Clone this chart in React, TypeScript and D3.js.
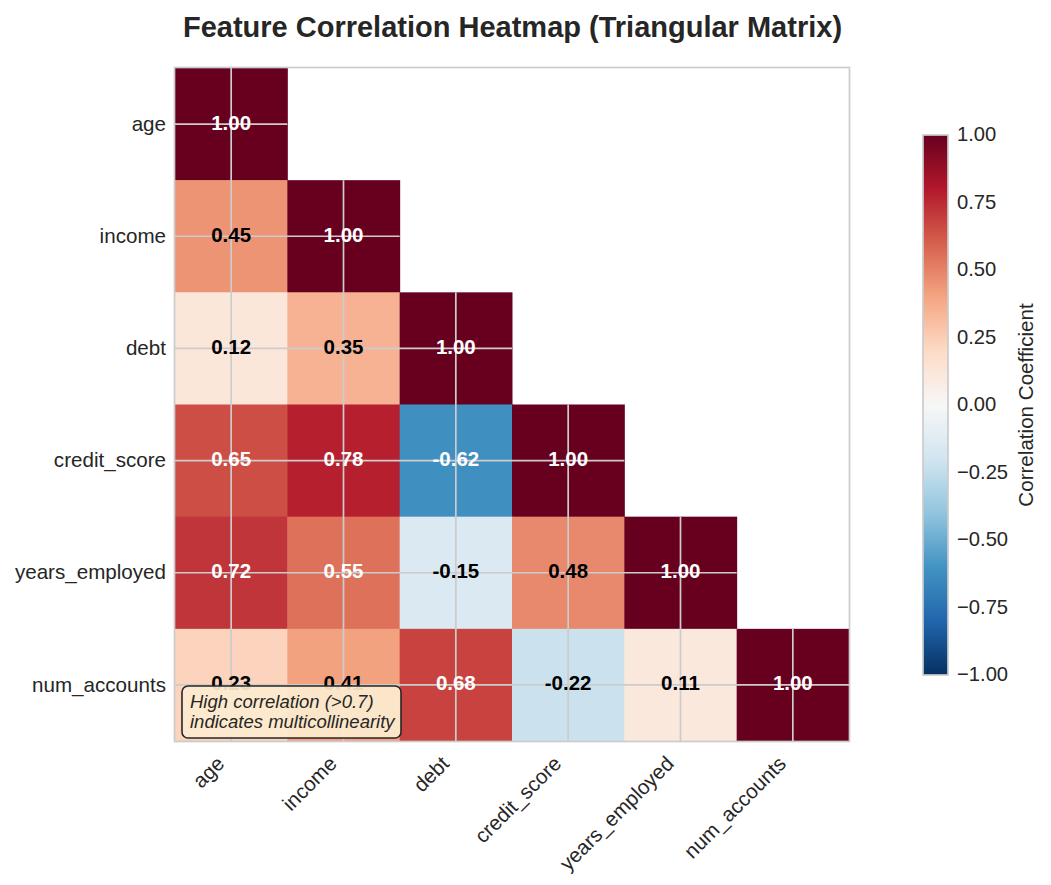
import React from 'react';
import * as d3 from 'd3';

// feature names and the lower-triangle correlation values (row by row)
const features = ['age', 'income', 'debt', 'credit_score', 'years_employed', 'num_accounts'];
const correlations: number[][] = [
  [1.0],
  [0.45, 1.0],
  [0.12, 0.35, 1.0],
  [0.65, 0.78, -0.62, 1.0],
  [0.72, 0.55, -0.15, 0.48, 1.0],
  [0.23, 0.41, 0.68, -0.22, 0.11, 1.0],
];
const colorbarTicks = [-1, -0.75, -0.5, -0.25, 0, 0.25, 0.5, 0.75, 1];

// matplotlib RdBu_r stops
const rdbuR = ['#053061', '#2166ac', '#4393c3', '#92c5de', '#d1e5f0', '#f7f7f7',
  '#fddbc7', '#f4a582', '#d6604d', '#b2182b', '#67001f'];

const FONT = '"Liberation Sans", Arial, sans-serif';
const TEXT = '#262626';
const GRID = '#cccccc';

const App = () => {
  const width = 1051;
  const height = 885;
  const plot = { left: 175, top: 68, right: 849, bottom: 741 };

  const x = d3.scaleBand<string>().domain(features).range([plot.left, plot.right]);
  const y = d3.scaleBand<string>().domain(features).range([plot.top, plot.bottom]);
  const bw = x.bandwidth();
  const bh = y.bandwidth();

  const color = d3.scaleLinear<string>()
    .domain(d3.range(rdbuR.length).map(i => -1 + (2 * i) / (rdbuR.length - 1)))
    .range(rdbuR)
    .interpolate(d3.interpolateRgb)
    .clamp(true);

  const cb = { x: 923, w: 25, top: 135, bottom: 675 };
  const cbScale = d3.scaleLinear().domain([-1, 1]).range([cb.bottom, cb.top]);

  const cells = correlations.flatMap((row, i) =>
    row.map((v, j) => ({ row: features[i], col: features[j], v }))
  );

  const fmt = (v: number) => v.toFixed(2).replace('-', '\u2212');

  return (
    <svg width={width} height={height} style={{ position: 'absolute', left: 0, top: 0, background: '#fff' }}
      fontFamily={FONT}>
      <defs>
        <linearGradient id="cbGrad" x1="0" y1="1" x2="0" y2="0">
          {rdbuR.map((c, i) => (
            <stop key={i} offset={`${(i / (rdbuR.length - 1)) * 100}%`} stopColor={c} />
          ))}
        </linearGradient>
      </defs>

      <text x={512.5} y={37} textAnchor="middle" fontSize={29} fontWeight="bold" fill={TEXT}>
        Feature Correlation Heatmap (Triangular Matrix)
      </text>

      {/* cells */}
      {cells.map((d, k) => (
        <rect key={k} x={x(d.col)!} y={y(d.row)!} width={bw + 0.5} height={bh + 0.5}
          fill={color(d.v)} />
      ))}

      {/* grid lines, only over the drawn cells */}
      {features.map(f => (
        <g key={f}>
          <line x1={plot.left} x2={x(f)! + bw} y1={y(f)! + bh / 2} y2={y(f)! + bh / 2}
            stroke={GRID} strokeWidth={1.7} />
          <line x1={x(f)! + bw / 2} x2={x(f)! + bw / 2} y1={y(f)!} y2={plot.bottom}
            stroke={GRID} strokeWidth={1.7} />
        </g>
      ))}

      {/* cell values */}
      {cells.map((d, k) => (
        <text key={k} x={x(d.col)! + bw / 2} y={y(d.row)! + bh / 2} dy="0.27em"
          textAnchor="middle" fontSize={20.5} fontWeight="bold"
          fill={Math.abs(d.v) > 0.5 ? '#ffffff' : '#000000'}>
          {d.v.toFixed(2)}
        </text>
      ))}

      {/* frame */}
      <rect x={plot.left - 0.5} y={plot.top - 0.5} width={plot.right - plot.left + 1}
        height={plot.bottom - plot.top + 1} fill="none" stroke={GRID} strokeWidth={1.7} />

      {/* y tick labels */}
      {features.map(f => (
        <text key={f} x={166} y={y(f)! + bh / 2} dy="0.32em" textAnchor="end"
          fontSize={20.6} fill={TEXT}>{f}</text>
      ))}

      {/* x tick labels */}
      {features.map(f => {
        const tx = x(f)! + bw / 2 - 5.5;
        const ty = 765;
        return (
          <text key={f} x={tx} y={ty} textAnchor="end" fontSize={20.6} fill={TEXT}
            transform={`rotate(-45 ${tx} ${ty})`}>{f}</text>
        );
      })}

      {/* annotation (overlaps the bottom-left values, as in the original) */}
      <rect x={182} y={686} width={219} height={52} rx={6} ry={6}
        fill="#fdebcf" fillOpacity={0.92} stroke="#262626" strokeWidth={1.6} />
      <text x={190} y={708} fontSize={18.5} fontStyle="italic" fill={TEXT}>High correlation (&gt;0.7)</text>
      <text x={190} y={728} fontSize={18.5} fontStyle="italic" fill={TEXT}>indicates multicollinearity</text>

      {/* colorbar */}
      <rect x={cb.x} y={cb.top} width={cb.w} height={cb.bottom - cb.top} fill="url(#cbGrad)"
        stroke={GRID} strokeWidth={1.7} />
      {colorbarTicks.map(t => (
        <text key={t} x={957} y={cbScale(t)} dy="0.3em" fontSize={20.2} fill={TEXT}>{fmt(t)}</text>
      ))}
      <text transform={`translate(1033 ${(cb.top + cb.bottom) / 2}) rotate(-90)`} textAnchor="middle"
        fontSize={20.6} fill={TEXT}>Correlation Coefficient</text>
    </svg>
  );
};

export default App;
